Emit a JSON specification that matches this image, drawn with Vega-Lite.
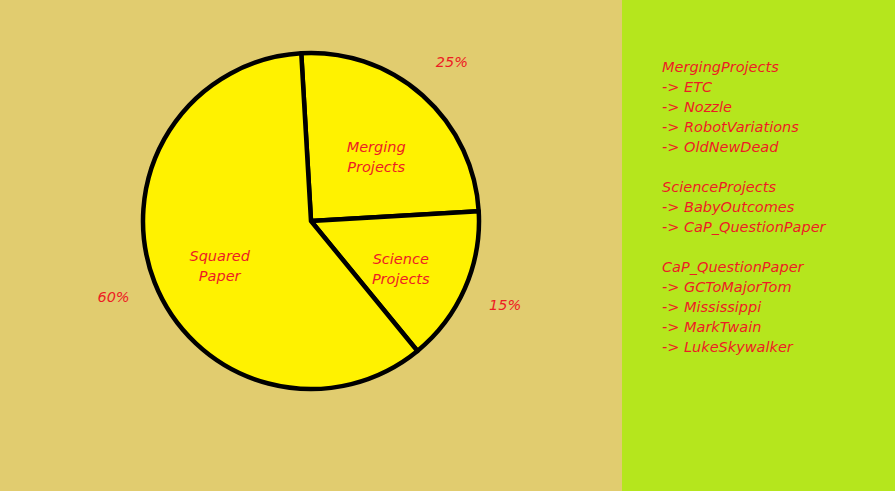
{
  "$schema": "https://vega.github.io/schema/vega-lite/v6.json",
  "background": "#E1CC6F",
  "padding": 0,
  "spacing": 0,
  "bounds": "flush",
  "config": {"view": {"stroke": null}},
  "hconcat": [
    {
      "width": 622,
      "height": 442,
      "data": {"values": [
        {"category": "Merging Projects", "share": 0.25},
        {"category": "Science Projects", "share": 0.15},
        {"category": "Squared Paper", "share": 0.60}
      ]},
      "encoding": {
        "theta": {"field": "share", "type": "quantitative", "stack": true, "scale": {"range": [-0.058, 6.2252]}},
        "order": {"field": "category", "type": "nominal"}
      },
      "layer": [
        {
          "mark": {"type": "arc", "radius": 168, "fill": "#FFF200", "stroke": "#000000", "strokeWidth": 4.5, "strokeJoin": "round"}
        },
        {
          "mark": {"type": "text", "radius": 98, "font": "DejaVu Sans", "fontSize": 14.5, "fontStyle": "italic", "color": "#ED1C24", "lineBreak": " ", "lineHeight": 20, "align": "center", "baseline": "middle"},
          "encoding": {"text": {"field": "category"}}
        },
        {
          "mark": {"type": "text", "radius": 212, "font": "DejaVu Sans", "fontSize": 14.5, "fontStyle": "italic", "color": "#ED1C24", "align": "center", "baseline": "middle"},
          "encoding": {"text": {"field": "share", "type": "quantitative", "format": ".0%"}}
        }
      ]
    },
    {
      "width": 273,
      "height": 491,
      "view": {"fill": "#B5E61D", "stroke": null},
      "data": {"values": [
        {"row": 0, "text": "MergingProjects"},
        {"row": 1, "text": "-> ETC"},
        {"row": 2, "text": "-> Nozzle"},
        {"row": 3, "text": "-> RobotVariations"},
        {"row": 4, "text": "-> OldNewDead"},
        {"row": 6, "text": "ScienceProjects"},
        {"row": 7, "text": "-> BabyOutcomes"},
        {"row": 8, "text": "-> CaP_QuestionPaper"},
        {"row": 10, "text": "CaP_QuestionPaper"},
        {"row": 11, "text": "-> GCToMajorTom"},
        {"row": 12, "text": "-> Mississippi"},
        {"row": 13, "text": "-> MarkTwain"},
        {"row": 14, "text": "-> LukeSkywalker"}
      ]},
      "mark": {"type": "text", "align": "left", "baseline": "middle", "font": "DejaVu Sans", "fontSize": 14.5, "fontStyle": "italic", "color": "#ED1C24"},
      "encoding": {
        "x": {"value": 40},
        "y": {"field": "row", "type": "quantitative", "scale": {"domain": [-3.4, 21.15], "reverse": true, "nice": false, "zero": false}, "axis": null},
        "text": {"field": "text"}
      }
    }
  ]
}
